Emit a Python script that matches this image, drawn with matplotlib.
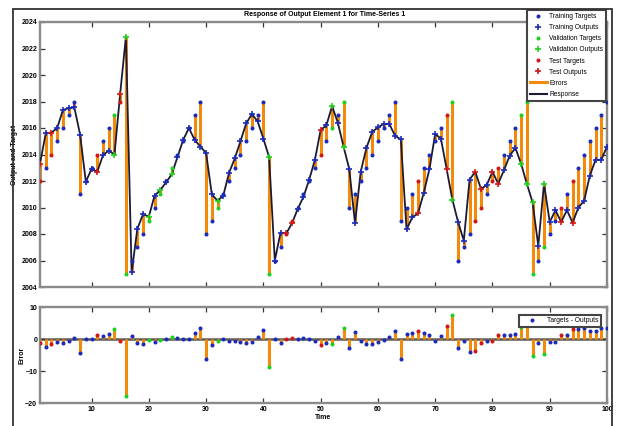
import matplotlib
matplotlib.use('Agg')
import matplotlib.pyplot as plt
from matplotlib.lines import Line2D
from matplotlib.patches import Rectangle

plt.rcParams['font.family'] = ['Liberation Sans', 'DejaVu Sans']

# time steps 1..100
time = list(range(1, 101))

targets = [2012, 2013, 2014, 2015, 2016, 2017, 2018, 2011, 2012, 2013,
           2014, 2015, 2016, 2017, 2018, 2005, 2006, 2007, 2008, 2009,
           2010, 2011, 2012, 2013, 2014, 2015, 2016, 2017, 2018, 2008,
           2009, 2010, 2011, 2012, 2013, 2014, 2015, 2016, 2017, 2018,
           2005, 2006, 2007, 2008, 2009, 2010, 2011, 2012, 2013, 2014,
           2015, 2016, 2017, 2018, 2010, 2011, 2012, 2013, 2014, 2015,
           2016, 2017, 2018, 2009, 2010, 2011, 2012, 2013, 2014, 2015,
           2016, 2017, 2018, 2006, 2007, 2008, 2009, 2010, 2011, 2012,
           2013, 2014, 2015, 2016, 2017, 2018, 2005, 2006, 2007, 2008,
           2009, 2010, 2011, 2012, 2013, 2014, 2015, 2016, 2017, 2018]

outputs = [2013.3, 2015.6, 2015.65, 2016.0, 2017.35, 2017.5, 2017.55, 2015.5, 2011.95, 2012.9,
           2012.7, 2013.95, 2014.3, 2014.0, 2018.6, 2022.9, 2005.1, 2008.4, 2009.5, 2009.3,
           2010.9, 2011.3, 2011.9, 2012.5, 2013.8, 2015.1, 2016.0, 2015.1, 2014.6, 2014.1,
           2011.0, 2010.5, 2010.9, 2012.6, 2013.7, 2015.0, 2016.35, 2017.05, 2016.5, 2015.2,
           2013.8, 2006.0, 2008.1, 2008.05, 2008.8, 2009.9, 2010.8, 2012.1, 2013.6, 2015.85,
           2016.2, 2017.65, 2016.4, 2014.6, 2012.9, 2008.8, 2012.7, 2014.5, 2015.7, 2016.05,
           2016.3, 2016.3, 2015.4, 2015.15, 2008.35, 2009.25, 2009.55, 2011.1, 2012.9, 2015.55,
           2015.2, 2012.9, 2010.6, 2008.9, 2007.5, 2012.1, 2012.7, 2011.4, 2011.7, 2012.7,
           2011.8, 2012.8, 2013.9, 2014.5, 2013.3, 2011.8, 2010.4, 2007.1, 2011.8, 2008.9,
           2009.8, 2008.9, 2009.8, 2008.85, 2010.0, 2010.5, 2012.4, 2013.6, 2013.6, 2014.6]

# which set each step belongs to
test_steps = [1, 3, 11, 15, 44, 45, 50, 67, 72, 77, 78, 80, 81, 92, 94]
val_steps = [14, 16, 20, 22, 24, 32, 41, 52, 54, 73, 85, 86, 87, 89]

group = []
for t in time:
    if t in test_steps:
        group.append('test')
    elif t in val_steps:
        group.append('val')
    else:
        group.append('train')

errors = [targets[i] - outputs[i] for i in range(len(time))]

colors = {'train': '#1c2bb8', 'val': '#1fd11f', 'test': '#d01818'}
names = {'train': 'Training', 'val': 'Validation', 'test': 'Test'}
orange = '#f28a0c'
frame = '#8a8a8a'

fig = plt.figure(figsize=(6.2, 4.26), dpi=100)
ax1 = fig.add_axes([40/620, 1-287/426, 567/620, 265/426])
ax2 = fig.add_axes([40/620, 1-403/426, 567/620, 96/426])

# top: response
for i in range(len(time)):
    ax1.plot([time[i], time[i]], [targets[i], outputs[i]], color=orange, lw=2.2,
             solid_capstyle='butt', zorder=2)
ax1.plot(time, outputs, color='#1b1b36', lw=1.3, zorder=3)

handles = []
for g in ['train', 'val', 'test']:
    xs = [time[i] for i in range(len(time)) if group[i] == g]
    yt = [targets[i] for i in range(len(time)) if group[i] == g]
    yo = [outputs[i] for i in range(len(time)) if group[i] == g]
    h1, = ax1.plot(xs, yt, '.', color=colors[g], ms=3.8, zorder=4)
    h2, = ax1.plot(xs, yo, '+', color=colors[g], ms=4, mew=1.2, zorder=5)
    handles.append((h1, names[g] + ' Targets'))
    handles.append((h2, names[g] + ' Outputs'))
handles.append((Line2D([], [], color=orange, lw=2.2), 'Errors'))
handles.append((Line2D([], [], color='#1b1b36', lw=1.5), 'Response'))

leg = ax1.legend([h for h, l in handles], [l for h, l in handles],
                 loc='upper right', bbox_to_anchor=(606/620, 1-10/426),
                 bbox_transform=fig.transFigure, borderaxespad=0,
                 prop={'size': 4.8}, handlelength=2.6, labelspacing=0.62,
                 fancybox=False, framealpha=1, borderpad=0.45, handletextpad=0.3)
leg.get_frame().set_edgecolor('#444444')
leg.get_frame().set_linewidth(1.5)

ax1.set_xlim(1, 100)
ax1.set_ylim(2004, 2024)
ax1.set_yticks(range(2004, 2025, 2))
ax1.set_xticks(range(10, 101, 10))
ax1.set_xticklabels([])
ax1.set_ylabel('Output and Target', fontsize=5, fontweight='bold')
ax1.yaxis.set_label_coords(-0.038, 0.5)

# bottom: errors
ax2.axhline(0, color='#5a5a5a', lw=1.8, zorder=1)
for i in range(len(time)):
    ax2.plot([time[i], time[i]], [0, errors[i]], color=orange, lw=2.2,
             solid_capstyle='butt', zorder=2)
for g in ['train', 'val', 'test']:
    xs = [time[i] for i in range(len(time)) if group[i] == g]
    ye = [errors[i] for i in range(len(time)) if group[i] == g]
    ax2.plot(xs, ye, '.', color=colors[g], ms=3.8, zorder=3)

leg2 = ax2.legend([Line2D([], [], ls='none', marker='.', color=colors['train'], ms=3.8)],
                  ['Targets - Outputs'], loc='upper right',
                  prop={'size': 4.8},
                  fancybox=False, framealpha=1, handlelength=3, borderpad=0.35,
                  bbox_to_anchor=(0.995, 0.95))
leg2.get_frame().set_edgecolor('#444444')
leg2.get_frame().set_linewidth(1.5)

ax2.set_xlim(1, 100)
ax2.set_ylim(-20, 10)
ax2.set_yticks([-20, -10, 0, 10])
ax2.set_xticks(range(10, 101, 10))
ax2.set_ylabel('Error', fontsize=5, fontweight='bold')
ax2.yaxis.set_label_coords(-0.026, 0.5)
ax2.set_xlabel('Time', fontsize=5, fontweight='bold', labelpad=1)

for ax in [ax1, ax2]:
    for s in ax.spines.values():
        s.set_color(frame)
        s.set_linewidth(1.7)
    ax.tick_params(direction='in', top=True, right=True, length=3.5, width=0.9,
                   color='#333333', labelsize=5, pad=2)
    for lab in ax.get_xticklabels() + ax.get_yticklabels():
        lab.set_fontweight('bold')

fig.text(325/620, 1-14.5/426, 'Response of Output Element 1 for Time-Series 1',
         ha='center', va='center', fontsize=5, fontweight='bold')
fig.patches.append(Rectangle((13/620, -0.02), (612-13)/620, 1-9/426+0.02,
                             transform=fig.transFigure, fill=False,
                             ec='#333333', lw=1.3))

plt.savefig('out.png', dpi=100)
